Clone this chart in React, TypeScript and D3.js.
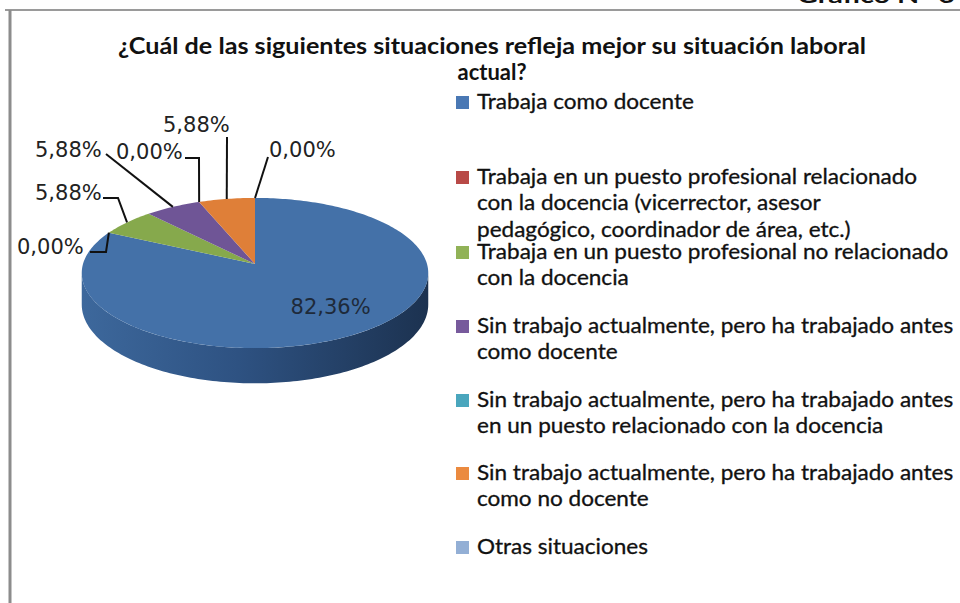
import * as d3 from "d3";

const categories = [
  "Trabaja como docente",
  "Trabaja en un puesto profesional relacionado con la docencia (vicerrector, asesor pedagógico, coordinador de área, etc.)",
  "Trabaja en un puesto profesional no relacionado con la docencia",
  "Sin trabajo actualmente, pero ha trabajado antes como docente",
  "Sin trabajo actualmente, pero ha trabajado antes en un puesto relacionado con la docencia",
  "Sin trabajo actualmente, pero ha trabajado antes como no docente",
  "Otras situaciones",
];

// legend text as it wraps in the original
const legendLines = [
  ["Trabaja como docente"],
  ["Trabaja en un puesto profesional relacionado", "con la docencia (vicerrector, asesor", "pedagógico, coordinador de área, etc.)"],
  ["Trabaja en un puesto profesional no relacionado", "con la docencia"],
  ["Sin trabajo actualmente, pero ha trabajado antes", "como docente"],
  ["Sin trabajo actualmente, pero ha trabajado antes", "en un puesto relacionado con la docencia"],
  ["Sin trabajo actualmente, pero ha trabajado antes", "como no docente"],
  ["Otras situaciones"],
];

const values = [82.36, 0, 5.88, 5.88, 0, 5.88, 0];

const topColors = ["#4471a8", "#b84a47", "#86a94c", "#6f5596", "#4aa6bd", "#df7f38", "#93afd5"];
const legendColors = ["#4a78b4", "#b84a47", "#91b257", "#775a9c", "#4aa6bd", "#eb8a3f", "#93afd5"];

// where Excel put the outside labels (text start, baseline) and leader elbows
const labelLayout = [
  null,
  { x: 17, y: 254, pts: [[90, 252], [106, 252]] },
  { x: 35, y: 200, pts: [[103, 198], [118, 198]] },
  { x: 35, y: 157, pts: [[106, 154]] },
  { x: 116, y: 159, pts: [[185, 158], [199, 158]] },
  { x: 163, y: 132, pts: [[227, 137]] },
  { x: 269, y: 157, pts: [[268, 157]] },
];

const legendY = [102, 177, 252, 326, 400, 473, 547];

const fmt = (v: number) => v.toFixed(2).replace(".", ",") + "%";

export default function App() {
  const W = 960;
  const H = 603;
  const cx = 255;
  const cy = 264; // projected centre of the disc
  const A = 172;
  const B = 74;
  const persp = 0.12; // back of the disc looks smaller
  const depth = 31;

  const arcs = d3.pie<number>().sort(null).value((d) => d)(values);

  const pt = (a: number, f = 1, dz = 0): [number, number] => {
    const u = Math.sin(a);
    const v = Math.cos(a);
    const s = 1 / (1 + persp * v);
    return [cx + A * f * u * s, cy - B * f * v * s + dz * s];
  };
  const line = d3.line<[number, number]>();

  const topPath = (a0: number, a1: number) => {
    if (a1 - a0 <= 0) return "";
    const n = Math.max(2, Math.ceil((a1 - a0) / 0.02));
    const ps: [number, number][] = [[cx, cy]];
    d3.range(n + 1).forEach((i) => ps.push(pt(a0 + ((a1 - a0) * i) / n)));
    return line(ps) + "Z";
  };

  // visible wall lies between the two widest points of the rim
  const wallStart = Math.acos(-persp);
  const wallEnd = 2 * Math.PI - wallStart;
  const sidePath = (a0: number, a1: number) => {
    const s = Math.max(a0, wallStart);
    const e = Math.min(a1, wallEnd);
    if (e <= s) return "";
    const n = Math.ceil((e - s) / 0.02);
    const top = d3.range(n + 1).map((i) => pt(s + ((e - s) * i) / n));
    const bot = d3.range(n + 1).map((i) => pt(e - ((e - s) * i) / n, 1, depth));
    return line([...top, ...bot]) + "Z";
  };

  const [xl] = pt(wallEnd);
  const [xr] = pt(wallStart);

  const font = "Lato, 'Open Sans', sans-serif";
  const labelFont = "'DejaVu Sans', Verdana, sans-serif";

  return (
    <svg
      width={W}
      height={H}
      style={{ position: "fixed", left: 0, top: 0, background: "#fff" }}
    >
      <defs>
        <linearGradient id="side" gradientUnits="userSpaceOnUse" x1={xl} x2={xr} y1={0} y2={0}>
          <stop offset="0" stopColor="#3d689c" />
          <stop offset="0.45" stopColor="#2e5282" />
          <stop offset="1" stopColor="#1c3250" />
        </linearGradient>
      </defs>
      <rect width={W} height={H} fill="#fff" />
      {/* frame */}
      <line x1={5} x2={W} y1={10} y2={10} stroke="#9a9a9a" strokeWidth={2} />
      <line x1={10} x2={10} y1={10} y2={H} stroke="#8c8c8c" strokeWidth={3} />
      <text x={955} y={3} textAnchor="end" fontFamily={font} fontWeight="bold" fontSize={21} fill="#111"
        textLength={158} lengthAdjust="spacingAndGlyphs">
        Gráfico N° 6
      </text>

      {/* title */}
      <text x={492} y={54} textAnchor="middle" fontFamily={font} fontWeight="bold" fontSize={22} fill="#111"
        textLength={748} lengthAdjust="spacingAndGlyphs">
        ¿Cuál de las siguientes situaciones refleja mejor su situación laboral
      </text>
      <text x={492} y={80} textAnchor="middle" fontFamily={font} fontWeight="bold" fontSize={22} fill="#111"
        textLength={69} lengthAdjust="spacingAndGlyphs">
        actual?
      </text>

      {/* pie walls */}
      {arcs.map((a, i) => {
        const d = sidePath(a.startAngle, a.endAngle);
        return d ? <path key={"s" + i} d={d} fill={i === 0 ? "url(#side)" : topColors[i]} /> : null;
      })}
      {/* pie tops */}
      {arcs.map((a, i) => {
        const d = topPath(a.startAngle, a.endAngle);
        return d ? <path key={"t" + i} d={d} fill={topColors[i]} /> : null;
      })}

      {/* labels */}
      {arcs.map((a, i) => {
        const mid = (a.startAngle + a.endAngle) / 2;
        const lay = labelLayout[i];
        if (!lay) {
          const [x, y] = pt(mid, 0.72);
          return (
            <text key={"l" + i} x={x + 3} y={y} textAnchor="middle" fontFamily={labelFont} fontSize={21} fill="#1e2a3a">
              {fmt(values[i])}
            </text>
          );
        }
        const ps = [...(lay.pts as [number, number][]), pt(mid)];
        return (
          <g key={"l" + i}>
            <path d={line(ps) || ""} fill="none" stroke="#111" strokeWidth={2} />
            <text x={lay.x} y={lay.y} fontFamily={labelFont} fontSize={21} fill="#222">
              {fmt(values[i])}
            </text>
          </g>
        );
      })}

      {/* legend */}
      {categories.map((c, i) => (
        <g key={"g" + i} transform={`translate(0,${legendY[i]})`}>
          <title>{c}</title>
          <rect x={456} y={-6} width={13} height={13} fill={legendColors[i]} />
          <g transform="translate(477,0) scale(1.1,1)">
            {legendLines[i].map((t, j) => (
              <text key={j} x={0} y={7 + j * 26.5} fontFamily={font} fontSize={20.5} fill="#111"
                stroke="#111" strokeWidth={0.3}>
                {t}
              </text>
            ))}
          </g>
        </g>
      ))}
    </svg>
  );
}
